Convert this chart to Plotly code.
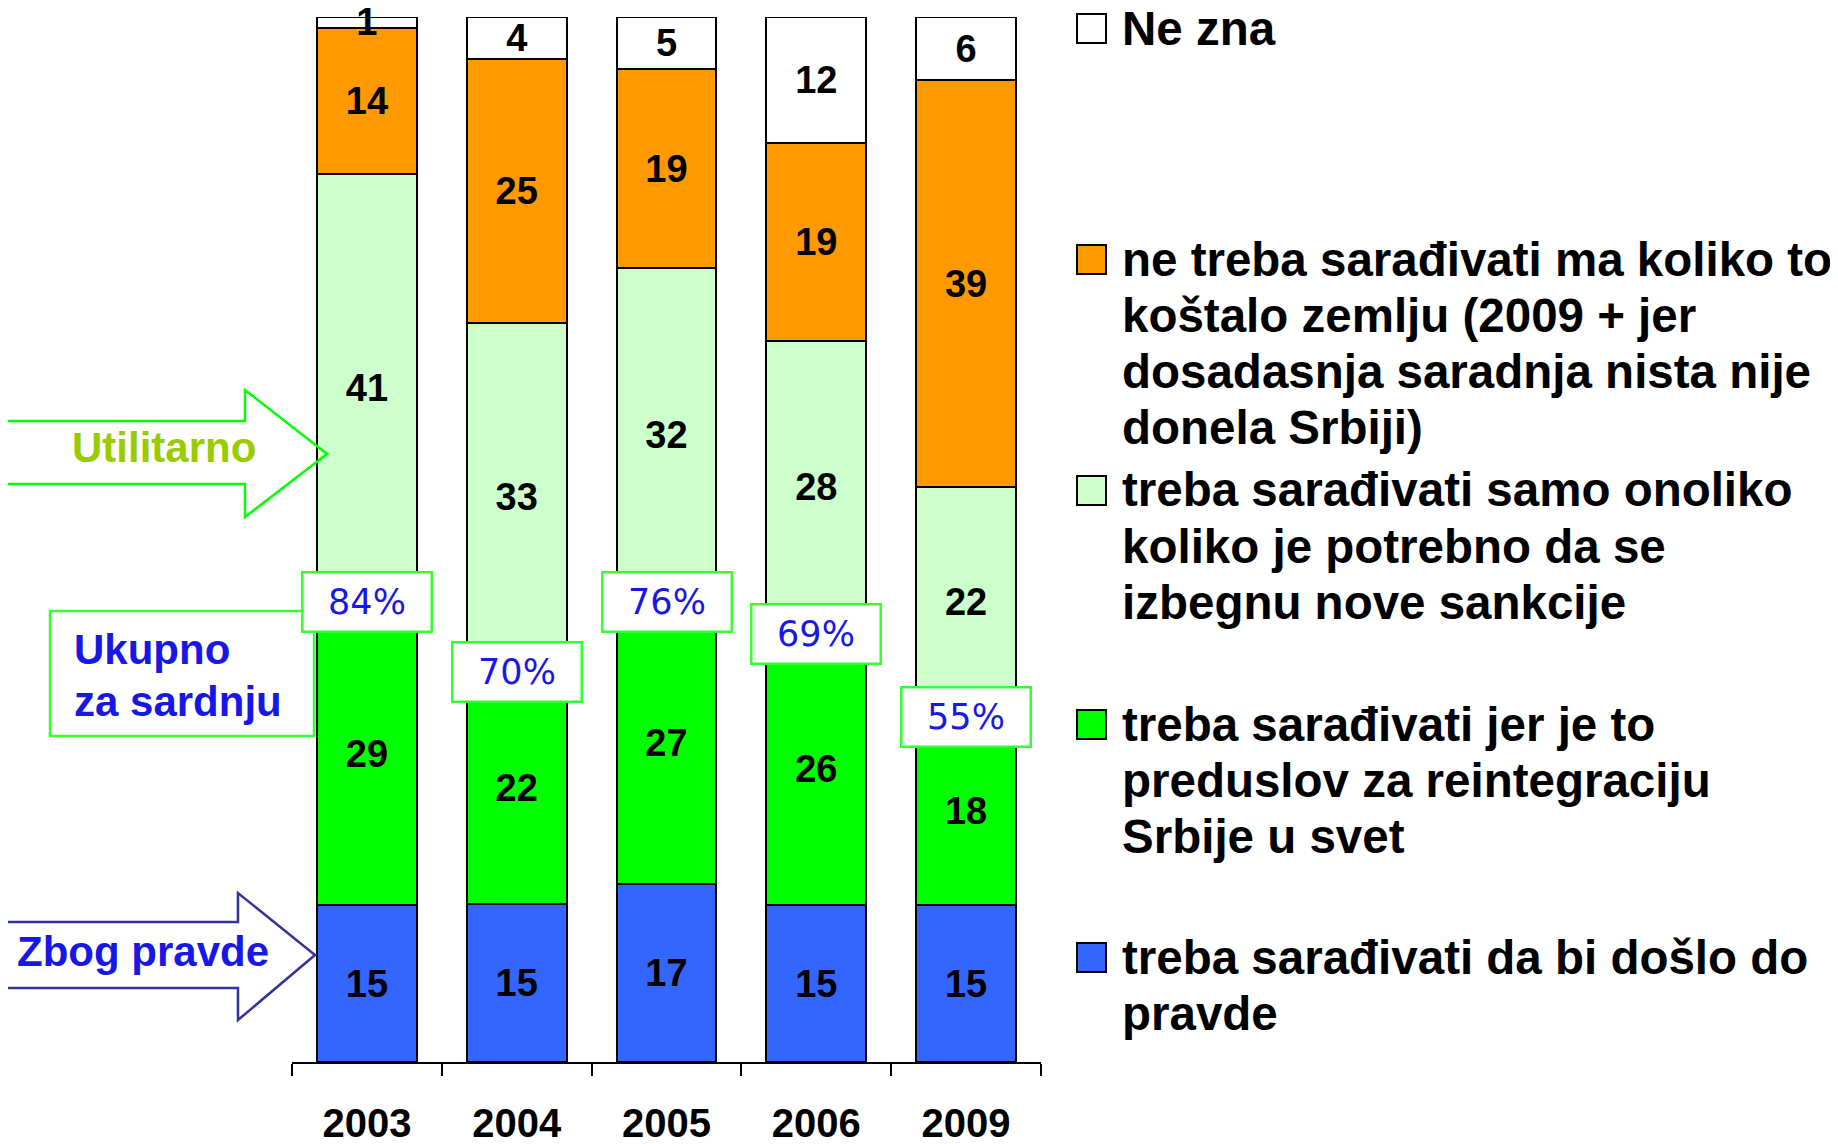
import plotly.graph_objects as go

# survey results, percent of respondents
years = ["2003", "2004", "2005", "2006", "2009"]
zbog_pravde = [15, 15, 17, 15, 15]
reintegracija = [29, 22, 27, 26, 18]
sankcije = [41, 33, 32, 28, 22]
ne_treba = [14, 25, 19, 19, 39]
ne_zna = [1, 4, 5, 12, 6]
ukupno_labels = ["84%", "70%", "76%", "69%", "55%"]

series_values = [zbog_pravde, reintegracija, sankcije, ne_treba, ne_zna]
series_colors = ["#3366FF", "#00FF00", "#CCFFCC", "#FF9900", "#FFFFFF"]
legend_lines = [
    ["treba sarađivati da bi došlo do", "pravde"],
    ["treba sarađivati jer je to", "preduslov za reintegraciju", "Srbije u svet"],
    ["treba sarađivati samo onoliko", "koliko je potrebno da se", "izbegnu nove sankcije"],
    ["ne treba sarađivati ma koliko to", "koštalo zemlju (2009 + jer",
     "dosadasnja saradnja nista nije", "donela Srbiji)"],
    ["Ne zna"],
]

W, H = 1838, 1144
OFF = 8  # page body margin
L, R, T, B = 292, 1041, 17, 1062  # plot area in screen pixels
FONT = "Liberation Sans, Arial, sans-serif"
BLUE_TXT = "#1717E8"


def px(x):
    return (x - L) / (R - L)


def py(y):
    return (B - y) / (B - T)


fig = go.Figure()
for vals, color, lines in zip(series_values, series_colors, legend_lines):
    fig.add_trace(go.Bar(
        x=years,
        y=vals,
        name=" ".join(lines),
        marker=dict(color=color, line=dict(color="#000000", width=2)),
        text=[str(v) for v in vals],
        textposition="inside",
        insidetextanchor="middle",
        constraintext="none",
        textangle=0,
        cliponaxis=False,
        textfont=dict(family=FONT, size=38, color="#000000", weight="bold"),
        showlegend=False,
    ))

shapes = []
annotations = []

# percentage boxes at the top of the "cooperation" block
for i in range(len(years)):
    total = sum(s[i] for s in series_values)
    level = (zbog_pravde[i] + reintegracija[i]) / total * 100
    annotations.append(dict(
        x=i, y=level, xref="x", yref="y", xanchor="center",
        text=ukupno_labels[i], showarrow=False,
        width=125, height=55,
        bgcolor="#FFFFFF", bordercolor="#33FF33", borderwidth=2.5,
        font=dict(family="DejaVu Sans", size=35, color=BLUE_TXT),
    ))

# legend (drawn by hand so the items line up with the picture)
legend_first_line = [957, 724, 490, 259, 28]
line_step = 56.3
for lines, color, y0 in zip(legend_lines, series_colors, legend_first_line):
    shapes.append(dict(
        type="rect", xref="paper", yref="paper",
        x0=px(1077), x1=px(1106), y0=py(y0 - 14), y1=py(y0 + 15),
        line=dict(color="#000000", width=2), fillcolor=color,
    ))
    for k, line in enumerate(lines):
        annotations.append(dict(
            x=px(1120), y=py(y0 + k * line_step), xanchor="left", text=line,
            font=dict(family=FONT, size=47.5, color="#000000", weight="bold"),
        ))

# arrows and side notes
util_arrow = [(0, 421), (245, 421), (245, 390), (327, 454), (245, 517), (245, 484), (0, 484)]
pravde_arrow = [(0, 922), (238, 922), (238, 893), (315, 955), (238, 1020), (238, 988), (0, 988)]
for pts, col in [(util_arrow, "#00FF00"), (pravde_arrow, "#333399")]:
    path = "M " + " L ".join(f"{px(a):.5f},{py(b):.5f}" for a, b in pts) + " Z"
    shapes.append(dict(type="path", xref="paper", yref="paper", path=path,
                       line=dict(color=col, width=2.5), fillcolor="rgba(255,255,255,0)",
                       layer="above"))

shapes.append(dict(type="rect", xref="paper", yref="paper",
                   x0=px(50), x1=px(314), y0=py(736), y1=py(611),
                   line=dict(color="#33FF33", width=2.5), fillcolor="#FFFFFF", layer="above"))

annotations += [
    dict(x=px(164), y=py(447), text="Utilitarno", xanchor="center",
         font=dict(family=FONT, size=42, color="#99CC00", weight="bold")),
    dict(x=px(143), y=py(951), text="Zbog pravde", xanchor="center",
         font=dict(family=FONT, size=42, color=BLUE_TXT, weight="bold")),
]
for k, line in enumerate(["Ukupno", "za sardnju"]):
    annotations.append(dict(x=px(72), y=py(649 + k * 52), text=line, xanchor="left",
                            font=dict(family=FONT, size=42, color=BLUE_TXT, weight="bold")))
for a in annotations:
    a.setdefault("xref", "paper")
    a.setdefault("yref", "paper")
    a.setdefault("showarrow", False)
    a.setdefault("yanchor", "middle")

fig.update_layout(
    barmode="stack",
    barnorm="percent",
    bargap=0.335,
    width=W, height=H,
    margin=dict(l=L - OFF, r=W - R + OFF, t=T - OFF, b=H - B + OFF),
    paper_bgcolor="#FFFFFF",
    plot_bgcolor="#FFFFFF",
    shapes=shapes,
    annotations=annotations,
    showlegend=False,
)
fig.update_xaxes(
    type="category",
    range=[-0.5, len(years) - 0.5],
    automargin=False,
    showline=True, linecolor="#000000", linewidth=2,
    ticks="outside", tickson="boundaries", ticklen=12, tickwidth=2, tickcolor="#000000",
    ticklabelstandoff=25,
    tickfont=dict(family=FONT, size=40, color="#000000", weight="bold"),
    showgrid=False, zeroline=False,
)
# tiny headroom so the normalised 2004 stack (sum 99) is not treated as off-range
fig.update_yaxes(range=[0, 100.02], visible=False, automargin=False,
                 showgrid=False, zeroline=False)

fig.write_html("out.html")
